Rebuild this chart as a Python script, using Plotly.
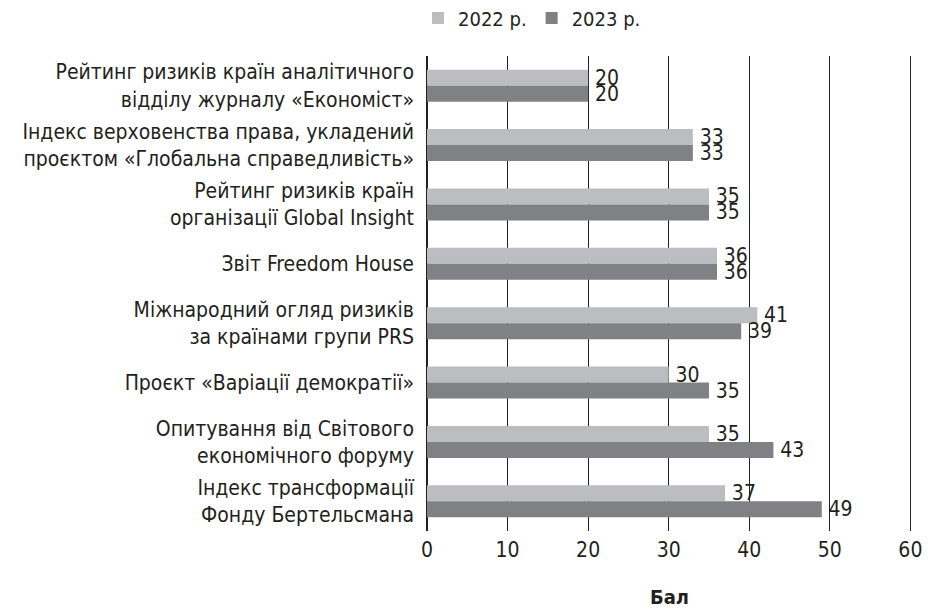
import plotly.graph_objects as go

categories = [
    "Рейтинг ризиків країн аналітичного<br>відділу журналу «Економіст»",
    "Індекс верховенства права, укладений<br>проєктом «Глобальна справедливість»",
    "Рейтинг ризиків країн<br>організації Global Insight",
    "Звіт Freedom House",
    "Міжнародний огляд ризиків<br>за країнами групи PRS",
    "Проєкт «Варіації демократії»",
    "Опитування від Світового<br>економічного форуму",
    "Індекс трансформації<br>Фонду Бертельсмана",
]
values_2022 = [20, 33, 35, 36, 41, 30, 35, 37]
values_2023 = [20, 33, 35, 36, 39, 35, 43, 49]
series_names = ["2022 р.", "2023 р."]
x_ticks = [0, 10, 20, 30, 40, 50, 60]

FONT = "DejaVu Sans Condensed, sans-serif"
DARK = "#231f20"
W, H = 928, 610

fig = go.Figure()
for name, vals, col in [(series_names[0], values_2022, "#bcbdc0"),
                        (series_names[1], values_2023, "#808184")]:
    fig.add_trace(go.Bar(
        y=categories, x=vals, name=name, orientation="h",
        marker=dict(color=col, line=dict(width=0)),
        text=["\u2009" + str(v) for v in vals], textposition="outside",
        textfont=dict(size=21, color=DARK, family=FONT),
        constraintext="none", cliponaxis=False,
    ))

fig.update_layout(
    width=W, height=H,
    margin=dict(l=427, r=16, t=56, b=79, autoexpand=False),
    paper_bgcolor="white", plot_bgcolor="white",
    barmode="group", bargap=0.46, bargroupgap=0,
    font=dict(family=FONT, size=21, color=DARK),
    legend=dict(orientation="h", yref="container", xref="container",
                x=418 / W, xanchor="left", y=1 - 18 / H, yanchor="middle",
                font=dict(size=20, color=DARK), itemwidth=30, traceorder="normal"),
    xaxis=dict(range=[0, 60.2], tickvals=x_ticks, showgrid=True, gridcolor=DARK,
               gridwidth=1.3, zeroline=True, zerolinecolor=DARK, zerolinewidth=2,
               ticks="", tickfont=dict(size=21, color=DARK, family=FONT),
               ticklabelstandoff=4,
               title=dict(text="<b>Бал</b>", font=dict(size=20, color=DARK), standoff=28),
               automargin=False, fixedrange=True),
    yaxis=dict(autorange="reversed", ticks="", showline=False, showgrid=False,
               tickfont=dict(size=21, color=DARK, family=FONT), ticklabelstandoff=12,
               automargin=False, fixedrange=True),
)

fig.write_html(
    "out.html",
    config={"displayModeBar": False},
    post_script=("document.documentElement.style.margin='0';"
                 "document.body.style.margin='0';"
                 "document.documentElement.style.overflow='hidden';"
                 "document.body.style.overflow='hidden';"),
)
